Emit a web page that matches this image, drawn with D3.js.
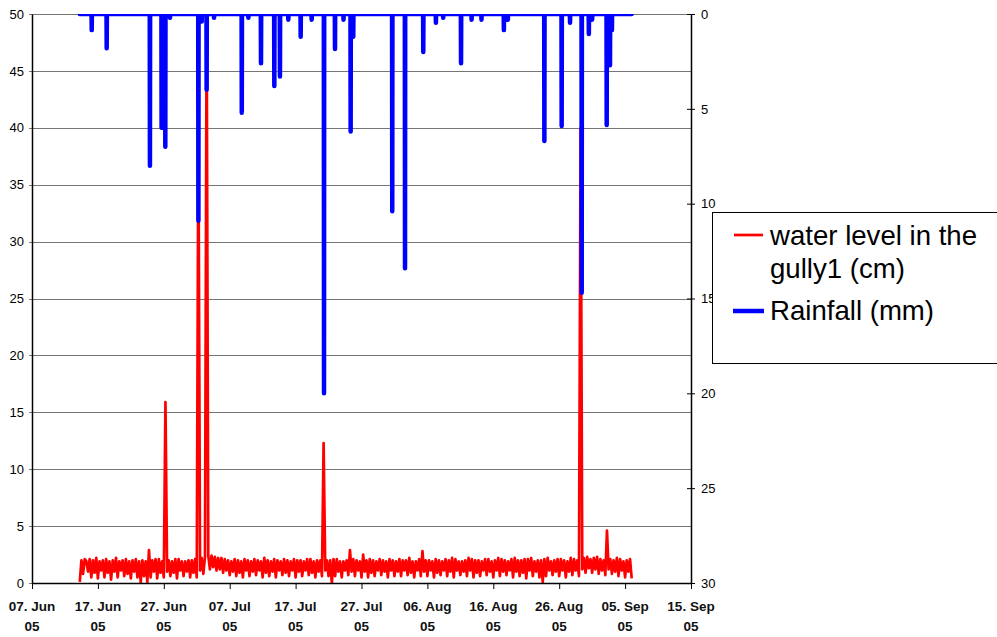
<!DOCTYPE html>
<html>
<head>
<meta charset="utf-8">
<script src="https://cdn.jsdelivr.net/npm/d3@7"></script>
<style>
  body { margin: 0; background: #fff; }
  svg { display: block; font-family: "Liberation Sans", Arial, sans-serif; }
</style>
</head>
<body>
<div id="chart"></div>
<script>
// ---- data ----
const leftTicks = [0, 5, 10, 15, 20, 25, 30, 35, 40, 45, 50];
const rightTicks = [0, 5, 10, 15, 20, 25, 30];
const dateTicks = ["2005-06-07", "2005-06-17", "2005-06-27", "2005-07-07", "2005-07-17",
  "2005-07-27", "2005-08-06", "2005-08-16", "2005-08-26", "2005-09-05", "2005-09-15"];

// water level (cm), one reading every 6 hours from this start (one row of 4 = one day)
const waterStart = "2005-06-14 06:00";
const waterLevel = [
  0.1, 2.0, 0.8, 2.1,   1.9, 1.0, 2.1, 0.5,   2.0, 0.9, 2.2, 0.4,   1.9, 1.1, 2.0, 0.5,
  2.1, 0.9, 1.9, 0.3,   2.0, 1.0, 2.2, 0.5,   1.9, 1.1, 2.0, 0.6,   2.1, 0.8, 1.9, 0.4,
  2.0, 1.0, 2.1, 0.5,   1.9, 0.05, 2.0, 0.6,  1.9, 0.1, 2.9, 0.5,   2.0, 1.0, 2.1, 0.4,
  2.1, 0.9, 1.9, 0.5,   15.9, 1.0, 2.0, 0.6,  1.9, 0.9, 2.1, 0.4,   2.1, 1.1, 1.9, 0.6,
  1.9, 1.0, 2.0, 0.5,   2.0, 0.9, 2.1, 0.5,   40, 1.1, 2.2, 0.8,    2.3, 50, 2.4, 1.2,
  2.4, 1.4, 2.3, 1.1,   2.2, 1.2, 2.2, 0.9,   2.1, 1.1, 2.0, 0.7,   1.9, 1.0, 2.1, 0.6,
  2.0, 0.9, 1.9, 0.5,   2.1, 1.1, 2.0, 0.6,   1.9, 1.0, 2.1, 0.7,   2.0, 1.1, 1.9, 0.5,
  2.2, 0.9, 2.0, 0.6,   1.9, 1.0, 2.1, 0.5,   2.0, 1.1, 1.9, 0.7,   2.1, 0.9, 2.0, 0.6,
  1.9, 1.1, 2.1, 0.5,   2.0, 1.0, 2.0, 0.6,   1.9, 1.1, 2.1, 0.7,   2.1, 0.9, 1.9, 0.5,
  2.0, 1.0, 2.0, 0.6,   12.3, 1.1, 2.0, 0.6,  2.0, 0.0, 2.1, 0.6,   2.1, 1.0, 1.9, 0.5,
  1.9, 1.1, 2.0, 0.7,   2.9, 1.0, 2.1, 0.6,   2.0, 1.1, 1.9, 0.5,   2.5, 1.0, 2.0, 0.5,
  2.1, 0.9, 2.0, 0.6,   1.9, 1.1, 2.1, 0.7,   2.0, 1.0, 1.9, 0.5,   2.1, 1.1, 2.0, 0.6,
  1.9, 1.0, 2.1, 0.6,   2.0, 1.1, 2.0, 0.7,   2.2, 0.9, 1.9, 0.5,   1.9, 1.1, 2.1, 0.6,
  2.8, 1.0, 2.0, 0.6,   2.0, 1.1, 1.9, 0.5,   2.1, 0.9, 2.0, 0.7,   1.9, 1.1, 2.1, 0.6,
  2.0, 1.0, 2.2, 0.5,   2.1, 1.1, 1.9, 0.7,   1.9, 1.0, 2.0, 0.6,   2.2, 1.1, 2.1, 0.5,
  2.0, 0.9, 2.0, 0.6,   1.9, 1.1, 2.1, 0.7,   2.1, 1.0, 1.9, 0.5,   2.0, 1.1, 2.2, 0.6,
  2.1, 1.0, 2.0, 0.7,   1.9, 1.1, 2.1, 0.5,   2.2, 1.0, 2.0, 0.6,   2.0, 0.9, 2.1, 0.4,
  2.1, 1.1, 2.2, 0.6,   1.9, 1.0, 2.0, 0.5,   2.0, 0.1, 2.1, 0.6,   2.2, 1.1, 1.9, 0.7,
  2.0, 1.0, 2.1, 0.6,   2.1, 1.1, 2.0, 0.5,   1.9, 1.0, 2.2, 0.7,   2.1, 1.1, 2.0, 0.6,
  40, 1.2, 2.2, 0.9,    2.3, 1.3, 2.1, 0.9,   2.2, 1.2, 2.3, 0.8,   2.1, 1.1, 2.0, 0.7,
  4.6, 1.2, 2.1, 0.8,   2.0, 1.0, 2.2, 0.6,   2.1, 1.1, 1.9, 0.5,   2.0, 1.0, 2.1, 0.4
];

// rainfall events (mm), zero in between
const rainTimes = [
  "2005-06-16 01:30", "2005-06-18 08:00", "2005-06-24 21:30", "2005-06-26 16:00",
  "2005-06-27 05:30", "2005-06-27 22:30", "2005-07-02 06:00", "2005-07-02 18:00",
  "2005-07-03 12:00", "2005-07-04 15:00", "2005-07-08 20:00", "2005-07-09 20:00",
  "2005-07-11 18:00", "2005-07-13 18:30", "2005-07-14 15:00", "2005-07-15 21:30",
  "2005-07-17 18:30", "2005-07-19 10:30", "2005-07-21 07:30", "2005-07-22 23:30",
  "2005-07-24 06:30", "2005-07-25 08:30", "2005-07-25 18:00", "2005-07-31 16:00",
  "2005-08-02 14:30", "2005-08-05 09:00", "2005-08-07 07:00", "2005-08-08 09:30",
  "2005-08-11 02:30", "2005-08-12 17:00", "2005-08-14 05:00", "2005-08-17 14:30",
  "2005-08-18 05:00", "2005-08-23 18:00", "2005-08-26 09:00", "2005-08-27 15:30",
  "2005-08-29 10:00", "2005-08-30 12:00", "2005-08-31 00:00", "2005-09-02 05:00",
  "2005-09-02 17:00", "2005-09-03 00:00"
];
const rainMm = [
  0.85, 1.8, 8.0, 6.0,
  7.0, 0.2, 10.9, 0.4,
  4.0, 0.2, 5.2, 0.2,
  2.6, 3.8, 3.3, 0.3,
  1.2, 0.3, 20.0, 1.85,
  0.3, 6.2, 1.2, 10.4,
  13.4, 2.0, 0.46, 0.2,
  2.6, 0.3, 0.3, 0.85,
  0.3, 6.7, 5.9, 0.46,
  14.7, 1.05, 0.3, 5.85,
  2.7, 0.85
];
const rainEnd = "2005-09-06 00:00";

// ---- layout ----
const W = 997, H = 637;
const margin = { top: 14, right: 306, bottom: 54, left: 32 };
const plotL = margin.left, plotR = W - margin.right;
const plotT = margin.top, plotB = H - margin.bottom;

const parseDay = d3.timeParse("%Y-%m-%d");
const parseTime = d3.timeParse("%Y-%m-%d %H:%M");

const svg = d3.select("#chart")
  .append("svg")
  .attr("width", W)
  .attr("height", H);

const x = d3.scaleTime()
  .domain([parseDay(dateTicks[0]), parseDay(dateTicks[dateTicks.length - 1])])
  .range([plotL, plotR]);

const y = d3.scaleLinear().domain([0, 50]).range([plotB, plotT]);
const yRain = d3.scaleLinear().domain([0, 30]).range([plotT, plotB]);

// series
const t0 = parseTime(waterStart);
const water = waterLevel.map((v, i) => ({ t: d3.timeHour.offset(t0, 6 * i), v }));

const rain = [{ t: t0, v: 0 }];
rainTimes.forEach((s, i) => {
  const t = parseTime(s);
  rain.push({ t: d3.timeMinute.offset(t, -40), v: 0 });
  rain.push({ t, v: rainMm[i] });
  rain.push({ t: d3.timeMinute.offset(t, 40), v: 0 });
});
rain.push({ t: parseTime(rainEnd), v: 0 });

// Gridlines
svg.append("g")
  .selectAll("line")
  .data(leftTicks)
  .enter()
  .append("line")
  .attr("x1", plotL - 3)
  .attr("x2", plotR)
  .attr("y1", d => Math.round(y(d)) + 0.5)
  .attr("y2", d => Math.round(y(d)) + 0.5)
  .style("stroke", "#767676")
  .style("stroke-width", 1);

// Clip
svg.append("clipPath")
  .attr("id", "plot-clip")
  .append("rect")
  .attr("x", plotL)
  .attr("y", plotT)
  .attr("width", plotR - plotL)
  .attr("height", plotB - plotT);

const plot = svg.append("g").attr("clip-path", "url(#plot-clip)");

// Water level line (drawn under rainfall)
plot.append("path")
  .datum(water)
  .attr("fill", "none")
  .attr("stroke", "#ff0000")
  .attr("stroke-width", 2.7)
  .attr("stroke-linejoin", "round")
  .attr("d", d3.line().x(d => x(d.t)).y(d => y(d.v)));

// Rainfall line
plot.append("path")
  .datum(rain)
  .attr("fill", "none")
  .attr("stroke", "#0000ff")
  .attr("stroke-width", 4.5)
  .attr("stroke-linejoin", "round")
  .attr("stroke-linecap", "round")
  .attr("d", d3.line().x(d => x(d.t)).y(d => yRain(d.v)));

// Left axis
const leftAxis = svg.append("g")
  .attr("transform", `translate(${plotL},0)`)
  .call(d3.axisLeft(y).tickValues(leftTicks).tickSize(0).tickSizeOuter(0).tickPadding(8));
leftAxis.select(".domain").style("stroke", "#000").style("stroke-width", 1.5);
leftAxis.selectAll("text").style("font-size", "13px").style("fill", "#000")
  .style("font-family", "'Liberation Sans', Arial, sans-serif");

// Right axis
const rightAxis = svg.append("g")
  .attr("transform", `translate(${plotR},0)`)
  .call(d3.axisRight(yRain).tickValues(rightTicks).tickSize(4).tickSizeOuter(0).tickPadding(6));
rightAxis.select(".domain").style("stroke", "#000").style("stroke-width", 1.5);
rightAxis.selectAll(".tick line").attr("x1", -4).style("stroke", "#000");
rightAxis.selectAll("text").style("font-size", "13px").style("fill", "#000")
  .style("font-family", "'Liberation Sans', Arial, sans-serif");

// Bottom axis
const bottomAxis = svg.append("g")
  .attr("transform", `translate(0,${plotB})`)
  .call(d3.axisBottom(x).tickValues(dateTicks.map(parseDay)).tickSize(6).tickSizeOuter(0).tickFormat(""));
bottomAxis.select(".domain").style("stroke", "#000").style("stroke-width", 1.5);
bottomAxis.selectAll(".tick line").style("stroke", "#000");

const fmtDay = d3.timeFormat("%d. %b");
const fmtYear = d3.timeFormat("%y");

const dateLabels = svg.append("g")
  .selectAll("text")
  .data(dateTicks.map(parseDay))
  .enter()
  .append("text")
  .attr("text-anchor", "middle")
  .style("font-size", "13.5px")
  .style("font-weight", "700")
  .style("fill", "#111");

dateLabels.append("tspan")
  .attr("x", d => x(d))
  .attr("y", 611)
  .text(d => fmtDay(d));

dateLabels.append("tspan")
  .attr("x", d => x(d))
  .attr("y", 631)
  .text(d => fmtYear(d));

// Legend
const legend = svg.append("g");

legend.append("rect")
  .attr("x", 712.5)
  .attr("y", 212.5)
  .attr("width", 300)
  .attr("height", 151)
  .attr("fill", "#fff")
  .attr("stroke", "#000")
  .attr("stroke-width", 1);

legend.append("line")
  .attr("x1", 734).attr("x2", 763)
  .attr("y1", 235).attr("y2", 235)
  .style("stroke", "#ff0000")
  .style("stroke-width", 2.7);

legend.append("text")
  .style("font-size", "27.6px")
  .style("fill", "#000")
  .call(t => {
    t.append("tspan").attr("x", 770).attr("y", 245).text("water level in the");
    t.append("tspan").attr("x", 770).attr("y", 278).text("gully1 (cm)");
  });

legend.append("line")
  .attr("x1", 733).attr("x2", 764)
  .attr("y1", 311).attr("y2", 311)
  .style("stroke", "#0000ff")
  .style("stroke-width", 4.5);

legend.append("text")
  .attr("x", 770)
  .attr("y", 320)
  .style("font-size", "27.6px")
  .style("fill", "#000")
  .text("Rainfall (mm)");
</script>
</body>
</html>
